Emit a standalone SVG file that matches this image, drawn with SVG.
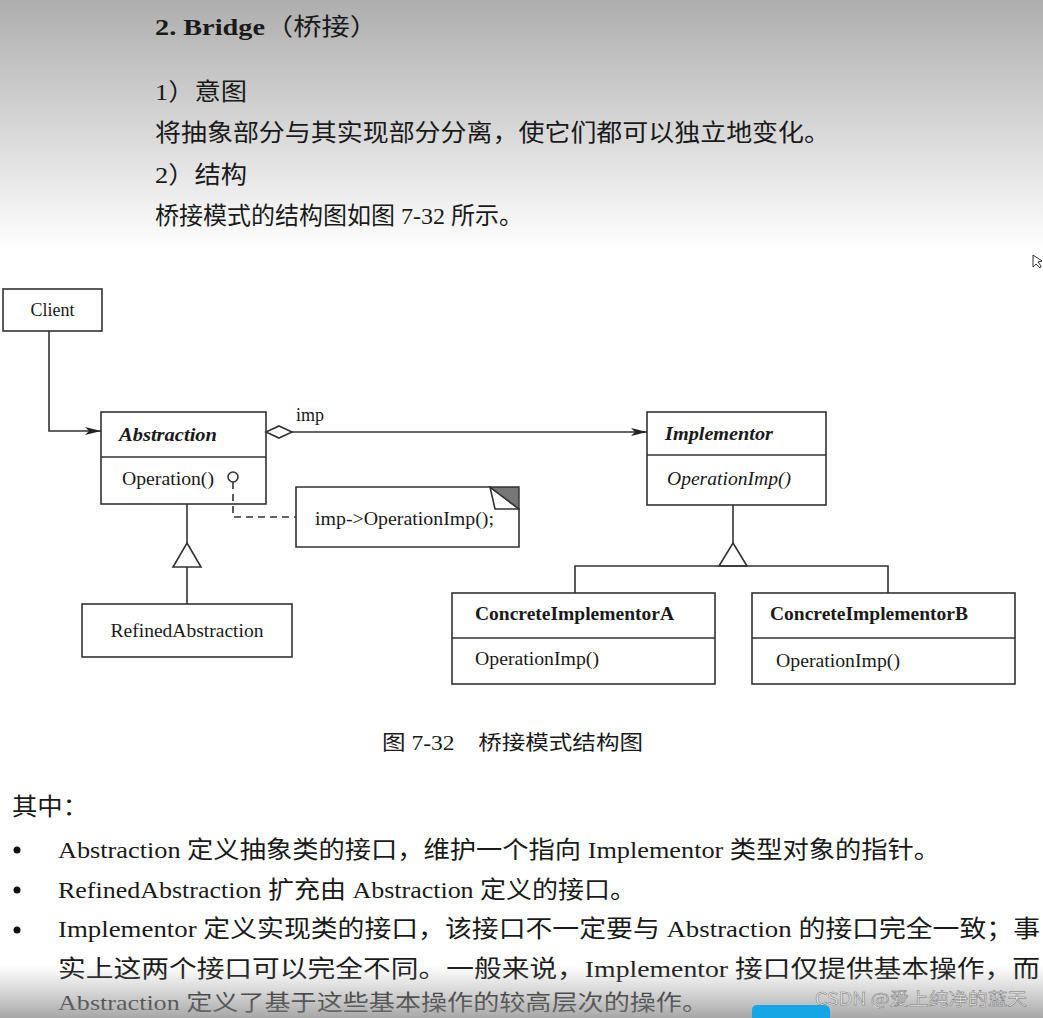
<svg xmlns="http://www.w3.org/2000/svg" width="1043" height="1018" viewBox="0 0 1043 1018">
<defs>
<linearGradient id="topg" x1="0" y1="0" x2="0" y2="1">
<stop offset="0" stop-color="#aeaeae"/>
<stop offset="0.5" stop-color="#d6d6d6"/>
<stop offset="1" stop-color="#ffffff"/>
</linearGradient>
<linearGradient id="botg" x1="0" y1="0" x2="0" y2="1">
<stop offset="0" stop-color="#9a9a9a" stop-opacity="0"/>
<stop offset="1" stop-color="#8a8a8a" stop-opacity="0.75"/>
</linearGradient>
<marker id="arr" viewBox="0 0 16 8" refX="16" refY="4" markerWidth="16" markerHeight="8" markerUnits="userSpaceOnUse" orient="auto">
<path d="M0,0 L16,4 L0,8 L4,4 Z" fill="#222"/>
</marker>
</defs>
<style>
.box{fill:#fff;stroke:#333;stroke-width:1.6}
.ln{fill:none;stroke:#333;stroke-width:1.6}
.t{font-family:"Liberation Serif","Noto Sans CJK SC",serif;fill:#1a1a1a}
.d{font-size:18px}
.bi{font-weight:bold;font-style:italic}
.b{font-weight:bold}
.i{font-style:italic}
.p{font-size:24px}
</style>
<rect x="0" y="0" width="1043" height="250" fill="url(#topg)"/>
<rect x="0" y="250" width="1043" height="768" fill="#fff"/>

<g id="header">
<text class="t" x="155" y="35" font-size="24" textLength="223" lengthAdjust="spacingAndGlyphs"><tspan class="b">2. Bridge</tspan>（桥接）</text>
<text class="t p" x="155" y="100" textLength="92" lengthAdjust="spacingAndGlyphs">1）意图</text>
<text class="t p" x="155" y="141" textLength="675" lengthAdjust="spacingAndGlyphs">将抽象部分与其实现部分分离，使它们都可以独立地变化。</text>
<text class="t p" x="155" y="183" textLength="92" lengthAdjust="spacingAndGlyphs">2）结构</text>
<text class="t p" x="155" y="224" textLength="368" lengthAdjust="spacingAndGlyphs">桥接模式的结构图如图 7-32 所示。</text>
</g>

<g id="client">
<rect class="box" x="3" y="289" width="99" height="42"/>
<text class="t d" x="52.5" y="316" text-anchor="middle">Client</text>
</g>

<g id="abstraction">
<rect class="box" x="101" y="412" width="165" height="92"/>
<line class="ln" x1="101" y1="457" x2="266" y2="457"/>
<text class="t d bi" x="119" y="441" textLength="98" lengthAdjust="spacingAndGlyphs">Abstraction</text>
<text class="t d" x="122" y="485" textLength="92" lengthAdjust="spacingAndGlyphs">Operation()</text>
</g>

<g id="note">
<path class="box" d="M296,487 L490,487 L519,509 L519,547 L296,547 Z"/>
<polygon points="490,487 519,487 519,509" fill="#777" stroke="#333" stroke-width="1.4"/>
<polyline class="ln" points="490,487 495,509 519,509" stroke-width="1.4"/>
<text class="t d" x="315" y="525" textLength="179" lengthAdjust="spacingAndGlyphs">imp-&gt;OperationImp();</text>
</g>

<g id="refined">
<rect class="box" x="82" y="604" width="210" height="53"/>
<text class="t d" x="187" y="637" text-anchor="middle" textLength="153" lengthAdjust="spacingAndGlyphs">RefinedAbstraction</text>
</g>

<g id="implementor">
<rect class="box" x="647" y="412" width="179" height="93"/>
<line class="ln" x1="647" y1="455" x2="826" y2="455"/>
<text class="t d bi" x="665" y="440" textLength="108" lengthAdjust="spacingAndGlyphs">Implementor</text>
<text class="t d i" x="667" y="485" textLength="124" lengthAdjust="spacingAndGlyphs">OperationImp()</text>
</g>

<g id="concreteA">
<rect class="box" x="452" y="593" width="263" height="91"/>
<line class="ln" x1="452" y1="638" x2="715" y2="638"/>
<text class="t d b" x="475" y="620" textLength="199" lengthAdjust="spacingAndGlyphs">ConcreteImplementorA</text>
<text class="t d" x="475" y="665" textLength="124" lengthAdjust="spacingAndGlyphs">OperationImp()</text>
</g>

<g id="concreteB">
<rect class="box" x="752" y="593" width="263" height="91"/>
<line class="ln" x1="752" y1="638" x2="1015" y2="638"/>
<text class="t d b" x="770" y="620" textLength="198" lengthAdjust="spacingAndGlyphs">ConcreteImplementorB</text>
<text class="t d" x="776" y="667" textLength="124" lengthAdjust="spacingAndGlyphs">OperationImp()</text>
</g>

<g id="connectors">
<polyline class="ln" points="49,331 49,431 101,431" marker-end="url(#arr)"/>
<polygon points="266,432 279,426 292,432 279,438" fill="#fff" stroke="#333" stroke-width="1.6"/>
<line class="ln" x1="292" y1="432" x2="647" y2="432" marker-end="url(#arr)"/>
<polyline class="ln" points="233,482 233,517 296,517" stroke-dasharray="7,5"/>
<circle cx="233" cy="477" r="5" fill="#fff" stroke="#333" stroke-width="1.6"/>
<line class="ln" x1="187" y1="504" x2="187" y2="543"/>
<polygon points="187,543 201,567 173,567" fill="#fff" stroke="#333" stroke-width="1.6"/>
<line class="ln" x1="187" y1="567" x2="187" y2="604"/>
<line class="ln" x1="733" y1="505" x2="733" y2="543"/>
<polygon points="733,543 747,566 719,566" fill="#fff" stroke="#333" stroke-width="1.6"/>
<polyline class="ln" points="575,593 575,566 888,566 888,593"/>
</g>
<text class="t d" x="296" y="421">imp</text>

<g id="caption">
<text class="t" x="382" y="750" font-size="20" textLength="261" lengthAdjust="spacingAndGlyphs">图 7-32　桥接模式结构图</text>
</g>

<g id="body">
<text class="t p" x="12" y="815" textLength="76" lengthAdjust="spacingAndGlyphs">其中：</text>
<circle cx="17" cy="850" r="3.5" fill="#111"/>
<circle cx="17" cy="890" r="3.5" fill="#111"/>
<circle cx="17" cy="930" r="3.5" fill="#111"/>
<text class="t p" x="58" y="858" textLength="882" lengthAdjust="spacingAndGlyphs">Abstraction 定义抽象类的接口，维护一个指向 Implementor 类型对象的指针。</text>
<text class="t p" x="58" y="898" textLength="578" lengthAdjust="spacingAndGlyphs">RefinedAbstraction 扩充由 Abstraction 定义的接口。</text>
<text class="t p" x="58" y="937" textLength="982" lengthAdjust="spacingAndGlyphs">Implementor 定义实现类的接口，该接口不一定要与 Abstraction 的接口完全一致；事</text>
<text class="t p" x="58" y="977" textLength="982" lengthAdjust="spacingAndGlyphs">实上这两个接口可以完全不同。一般来说，Implementor 接口仅提供基本操作，而</text>
<text class="t" x="58" y="1010" font-size="22" textLength="650" lengthAdjust="spacingAndGlyphs">Abstraction 定义了基于这些基本操作的较高层次的操作。</text>
</g>

<rect x="0" y="965" width="1043" height="53" fill="url(#botg)"/>
<path d="M752,1018 L752,1010 Q752,1005 758,1005 L824,1005 Q830,1005 830,1011 L830,1018 Z" fill="#16a6e6"/>
<text x="815" y="1005" font-family="'Noto Sans CJK SC','DejaVu Sans',sans-serif" font-size="17" fill="#f2f2f2" stroke="#777" stroke-width="0.5" textLength="212" lengthAdjust="spacingAndGlyphs">CSDN @爱上纯净的蓝天</text>
<path d="M1033,255 L1033,267 L1036,264 L1040,268 L1041,266 L1038,262 L1042,261 Z" fill="#fff" stroke="#333" stroke-width="1"/>
</svg>
